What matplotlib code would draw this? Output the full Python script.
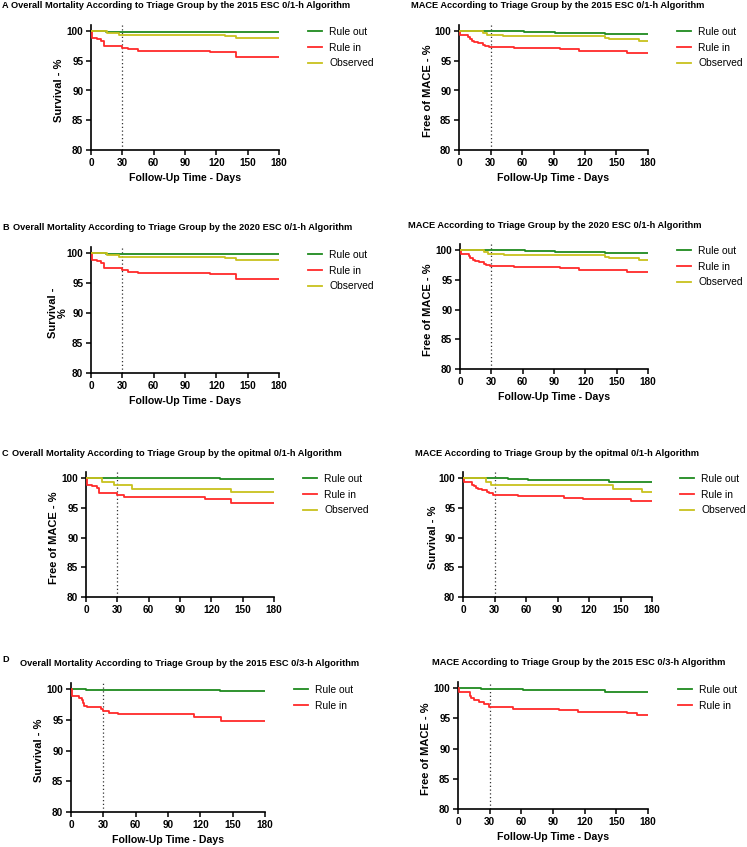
import numpy as np
import matplotlib
matplotlib.use("Agg")
import matplotlib.pyplot as plt

plt.rcParams['font.family'] = ['Liberation Sans', 'DejaVu Sans']

W, H = 747, 847

# ---- data (step points: day, percent) ----
# A / B : overall mortality, ESC 0/1-h (2015 and 2020 look identical)
mort01_out_t = [0, 14, 180]
mort01_out_y = [100, 99.8, 99.8]
mort01_in_t = [0, 1, 5.5, 10, 12, 30, 35, 45, 114, 139, 180]
mort01_in_y = [100, 98.9, 98.7, 98.4, 97.5, 97.2, 96.9, 96.7, 96.5, 95.7, 95.7]
mort01_obs_t = [0, 15.5, 27, 128, 139, 180]
mort01_obs_y = [100, 99.7, 99.4, 99.15, 98.85, 98.85]

mace01_out_t = [0, 62, 91, 139, 180]
mace01_out_y = [100, 99.8, 99.7, 99.5, 99.5]
mace01_in_t = [0, 1, 9, 10, 12, 14, 18, 23, 25, 29, 52, 96, 114, 160, 180]
mace01_in_y = [100, 99.4, 99.0, 98.7, 98.4, 98.2, 97.9, 97.6, 97.4, 97.3, 97.1, 96.9, 96.6, 96.3, 96.3]
mace01_obs_t = [0, 23, 27, 42, 139, 143, 171, 180]
mace01_obs_y = [100, 99.7, 99.4, 99.1, 98.8, 98.6, 98.3, 98.3]

# C : optimal 0/1-h
mortopt_out_t = [0, 128, 180]
mortopt_out_y = [100, 99.8, 99.8]
mortopt_in_t = [0, 1, 6, 10.5, 12, 30, 36, 114, 139, 180]
mortopt_in_y = [100, 98.8, 98.7, 98.3, 97.5, 97.1, 96.8, 96.5, 95.8, 95.8]
mortopt_obs_t = [0, 15, 27, 44, 139, 180]
mortopt_obs_y = [100, 99.4, 98.8, 98.2, 97.65, 97.65]

maceopt_out_t = [0, 43, 62, 91, 139, 180]
maceopt_out_y = [100, 99.8, 99.7, 99.6, 99.4, 99.4]
maceopt_in_t = [0, 1, 9, 10, 12, 14, 18, 23, 25, 29, 52, 96, 114, 160, 180]
maceopt_in_y = [100, 99.3, 98.9, 98.6, 98.3, 98.1, 97.9, 97.6, 97.4, 97.2, 96.9, 96.7, 96.4, 96.2, 96.2]
maceopt_obs_t = [0, 22, 27, 143, 170, 180]
maceopt_obs_y = [100, 99.4, 98.8, 98.2, 97.6, 97.6]

# D : ESC 0/3-h
mort03_out_t = [0, 14, 127.5, 138, 180]
mort03_out_y = [100, 99.9, 99.8, 99.7, 99.7]
mort03_in_t = [0, 1, 7, 10, 11.5, 12, 15, 28, 30, 35, 44, 114, 139, 180]
mort03_in_y = [100, 98.8, 98.6, 98.2, 97.8, 97.3, 97.1, 96.8, 96.4, 96.1, 95.9, 95.5, 94.8, 94.8]

mace03_out_t = [0, 22, 43, 62, 90, 139, 142, 180]
mace03_out_y = [100, 99.9, 99.8, 99.7, 99.6, 99.4, 99.3, 99.3]
mace03_in_t = [0, 1, 11, 12, 15, 20, 25, 29, 52, 96, 114, 160, 170, 180]
mace03_in_y = [100, 99.3, 98.6, 98.3, 98.0, 97.7, 97.3, 96.8, 96.6, 96.3, 96.0, 95.8, 95.5, 95.5]

xticks = [0, 30, 60, 90, 120, 150, 180]
yticks = [80, 85, 90, 95, 100]

GREEN = '#1f8a1f'
RED = '#ff2a2a'
YELLOW = '#c8c21e'

fig = plt.figure(figsize=(W / 100, H / 100), dpi=100)


def fx(px):
    return px / W


def fy(py):
    return 1 - py / H


def panel(L, R, y100, y80, curves, title, tpos, ty, ylabel, ylx, xlab_y, leg_x, leg_y,
          letter=None):
    top = y100 - (y80 - y100) / 20.0
    ax = fig.add_axes([fx(L), fy(y80), (R - L) / W, (y80 - top) / H])
    for t, y, c, lab in curves:
        ax.step(t, y, where='post', color=c, lw=1.3, label=lab, zorder=3)
    ax.axvline(30, color='#333333', ls=(0, (1, 2)), lw=0.9, zorder=2)
    ax.set_xlim(0, 180)
    ax.set_ylim(80, 101)
    ax.set_xticks(xticks)
    ax.set_yticks(yticks)
    for s in ['top', 'right']:
        ax.spines[s].set_visible(False)
    for s in ['left', 'bottom']:
        ax.spines[s].set_linewidth(1.2)
    ax.spines['bottom'].set_zorder(4)
    ax.tick_params(direction='out', length=3.5, width=1.1, pad=2, labelsize=7.2)
    for lbl in ax.get_xticklabels() + ax.get_yticklabels():
        lbl.set_fontweight('bold')
    ax.set_ylabel(ylabel, fontsize=8.0, fontweight='bold', linespacing=1.0)
    ax.yaxis.label.set_va('center')
    ax.yaxis.set_label_coords(fx(ylx), fy((y100 + y80) / 2), transform=fig.transFigure)
    if xlab_y is not None:
        fig.text(fx((L + R) / 2), fy(xlab_y), 'Follow-Up Time - Days', fontsize=7.6,
                 fontweight='bold', ha='center', va='center')
    fig.text(fx(tpos[0]), fy(ty), title, fontsize=6.7, fontweight='bold',
             ha=tpos[1], va='center')
    if letter is not None:
        fig.text(fx(2), fy(letter[1]), letter[0], fontsize=6.6, fontweight='bold',
                 ha='left', va='center')
    ax.legend(loc='upper left', bbox_to_anchor=(fx(leg_x), fy(leg_y)),
              bbox_transform=fig.transFigure, frameon=False, fontsize=7.4,
              handlelength=1.4, handletextpad=0.65, labelspacing=0.55,
              borderpad=0, borderaxespad=0)
    return ax


# Row A
panel(91, 279, 31, 150,
      [(mort01_out_t, mort01_out_y, GREEN, 'Rule out'),
       (mort01_in_t, mort01_in_y, RED, 'Rule in'),
       (mort01_obs_t, mort01_obs_y, YELLOW, 'Observed')],
      'Overall Mortality According to Triage Group by the 2015 ESC 0/1-h Algorithm',
      (11, 'left'), 6, 'Survival - %', 59, 178, 308, 27, letter=('A', 6))
panel(459, 648, 31, 150,
      [(mace01_out_t, mace01_out_y, GREEN, 'Rule out'),
       (mace01_in_t, mace01_in_y, RED, 'Rule in'),
       (mace01_obs_t, mace01_obs_y, YELLOW, 'Observed')],
      'MACE According to Triage Group by the 2015 ESC 0/1-h Algorithm',
      (558, 'center'), 6, 'Free of MACE - %', 428, 178, 677, 27)

# Row B
panel(91, 279, 253, 373,
      [(mort01_out_t, mort01_out_y, GREEN, 'Rule out'),
       (mort01_in_t, mort01_in_y, RED, 'Rule in'),
       (mort01_obs_t, mort01_obs_y, YELLOW, 'Observed')],
      'Overall Mortality According to Triage Group by the 2020 ESC 0/1-h Algorithm',
      (13, 'left'), 228, 'Survival -\n%', 58, 401, 308, 250, letter=('B', 227))
panel(460, 648, 250, 369,
      [(mace01_out_t, mace01_out_y, GREEN, 'Rule out'),
       (mace01_in_t, mace01_in_y, RED, 'Rule in'),
       (mace01_obs_t, mace01_obs_y, YELLOW, 'Observed')],
      'MACE According to Triage Group by the 2020 ESC 0/1-h Algorithm',
      (555, 'center'), 225, 'Free of MACE - %', 428, 397, 677, 246)

# Row C
panel(86, 274, 478, 597,
      [(mortopt_out_t, mortopt_out_y, GREEN, 'Rule out'),
       (mortopt_in_t, mortopt_in_y, RED, 'Rule in'),
       (mortopt_obs_t, mortopt_obs_y, YELLOW, 'Observed')],
      'Overall Mortality According to Triage Group by the opitmal 0/1-h Algorithm',
      (12, 'left'), 453, 'Free of MACE - %', 54, None, 303, 474, letter=('C', 453))
panel(463, 652, 478, 597,
      [(maceopt_out_t, maceopt_out_y, GREEN, 'Rule out'),
       (maceopt_in_t, maceopt_in_y, RED, 'Rule in'),
       (maceopt_obs_t, maceopt_obs_y, YELLOW, 'Observed')],
      'MACE According to Triage Group by the opitmal 0/1-h Algorithm',
      (557, 'center'), 453, 'Survival - %', 433, None, 680, 474)

# Row D
panel(71, 265, 689, 812,
      [(mort03_out_t, mort03_out_y, GREEN, 'Rule out'),
       (mort03_in_t, mort03_in_y, RED, 'Rule in')],
      'Overall Mortality According to Triage Group by the 2015 ESC 0/3-h Algorithm',
      (20, 'left'), 664, 'Survival - %', 39, 840, 294, 685, letter=('D', 659))
panel(458, 648, 688, 809,
      [(mace03_out_t, mace03_out_y, GREEN, 'Rule out'),
       (mace03_in_t, mace03_in_y, RED, 'Rule in')],
      'MACE According to Triage Group by the 2015 ESC 0/3-h Algorithm',
      (579, 'center'), 662, 'Free of MACE - %', 426, 837, 678, 685)

fig.savefig('out.png', dpi=100)
